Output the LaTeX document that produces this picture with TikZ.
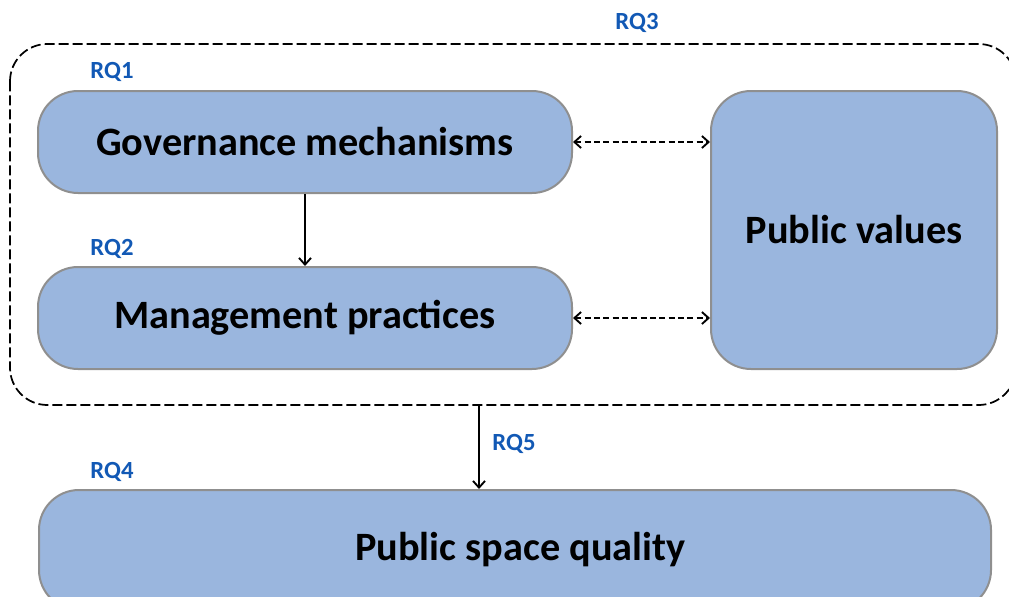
\documentclass[tikz,border=0pt]{standalone}
\usepackage{fontspec}
\setmainfont{Carlito}
\usepackage{tikz}
\usetikzlibrary{arrows.meta}

\definecolor{boxfill}{HTML}{9AB6DE}
\definecolor{boxline}{HTML}{8F8F8F}
\definecolor{rqblue}{HTML}{1259B5}

\begin{document}
\begin{tikzpicture}[x=0.75pt,y=-0.75pt,
    block/.style={draw=boxline,fill=boxfill,line width=1.5pt,rounded corners=30pt,
        font=\fontsize{30.2}{36}\selectfont\bfseries,inner sep=0pt},
    rq/.style={text=rqblue,font=\fontsize{18.5}{22}\selectfont\bfseries},
    link/.style={line width=1.4pt,-{Straight Barb[length=5pt,width=9pt]}},
    dlink/.style={line width=1.4pt,dash pattern=on 4.5pt off 2.5pt,
        {Straight Barb[length=5pt,width=9pt]}-{Straight Barb[length=5pt,width=9pt]}}]

    \useasboundingbox (0,0) rectangle (1009,596);
    \clip (0,0) rectangle (1009,596);

    % dashed frame around the first three boxes
    \draw[line width=1.3pt,dash pattern=on 7.5pt off 3pt,rounded corners=28pt]
        (10,44) rectangle (1016,405);

    \node[block,minimum width=400.5pt,minimum height=76.5pt] (gov) at (305,142) {Governance mechanisms};
    \node[block,minimum width=400.5pt,minimum height=76.5pt] (man) at (305,318) {Management practices};
    \node[block,minimum width=214.5pt,minimum height=208.5pt] (val) at (854,230) {Public values};
    \node[block,minimum width=714pt,minimum height=90pt] (psq) at (515,550) {\hspace*{8pt}Public space quality};

    \coordinate (frame) at (479,405);

    \foreach \n/\x/\y in {RQ1/112/72, RQ2/112/249, RQ3/637/23, RQ4/112/472, RQ5/514/444}
    {
        \node[rq] at (\x,\y) {\n};
    }

    \draw[link] (gov) -- (man);
    \draw[link] (frame) -- (frame |- psq.north);

    \draw[dlink] (gov.east) -- (gov.east -| val.west);
    \draw[dlink] (man.east) -- (man.east -| val.west);

\end{tikzpicture}
\end{document}
